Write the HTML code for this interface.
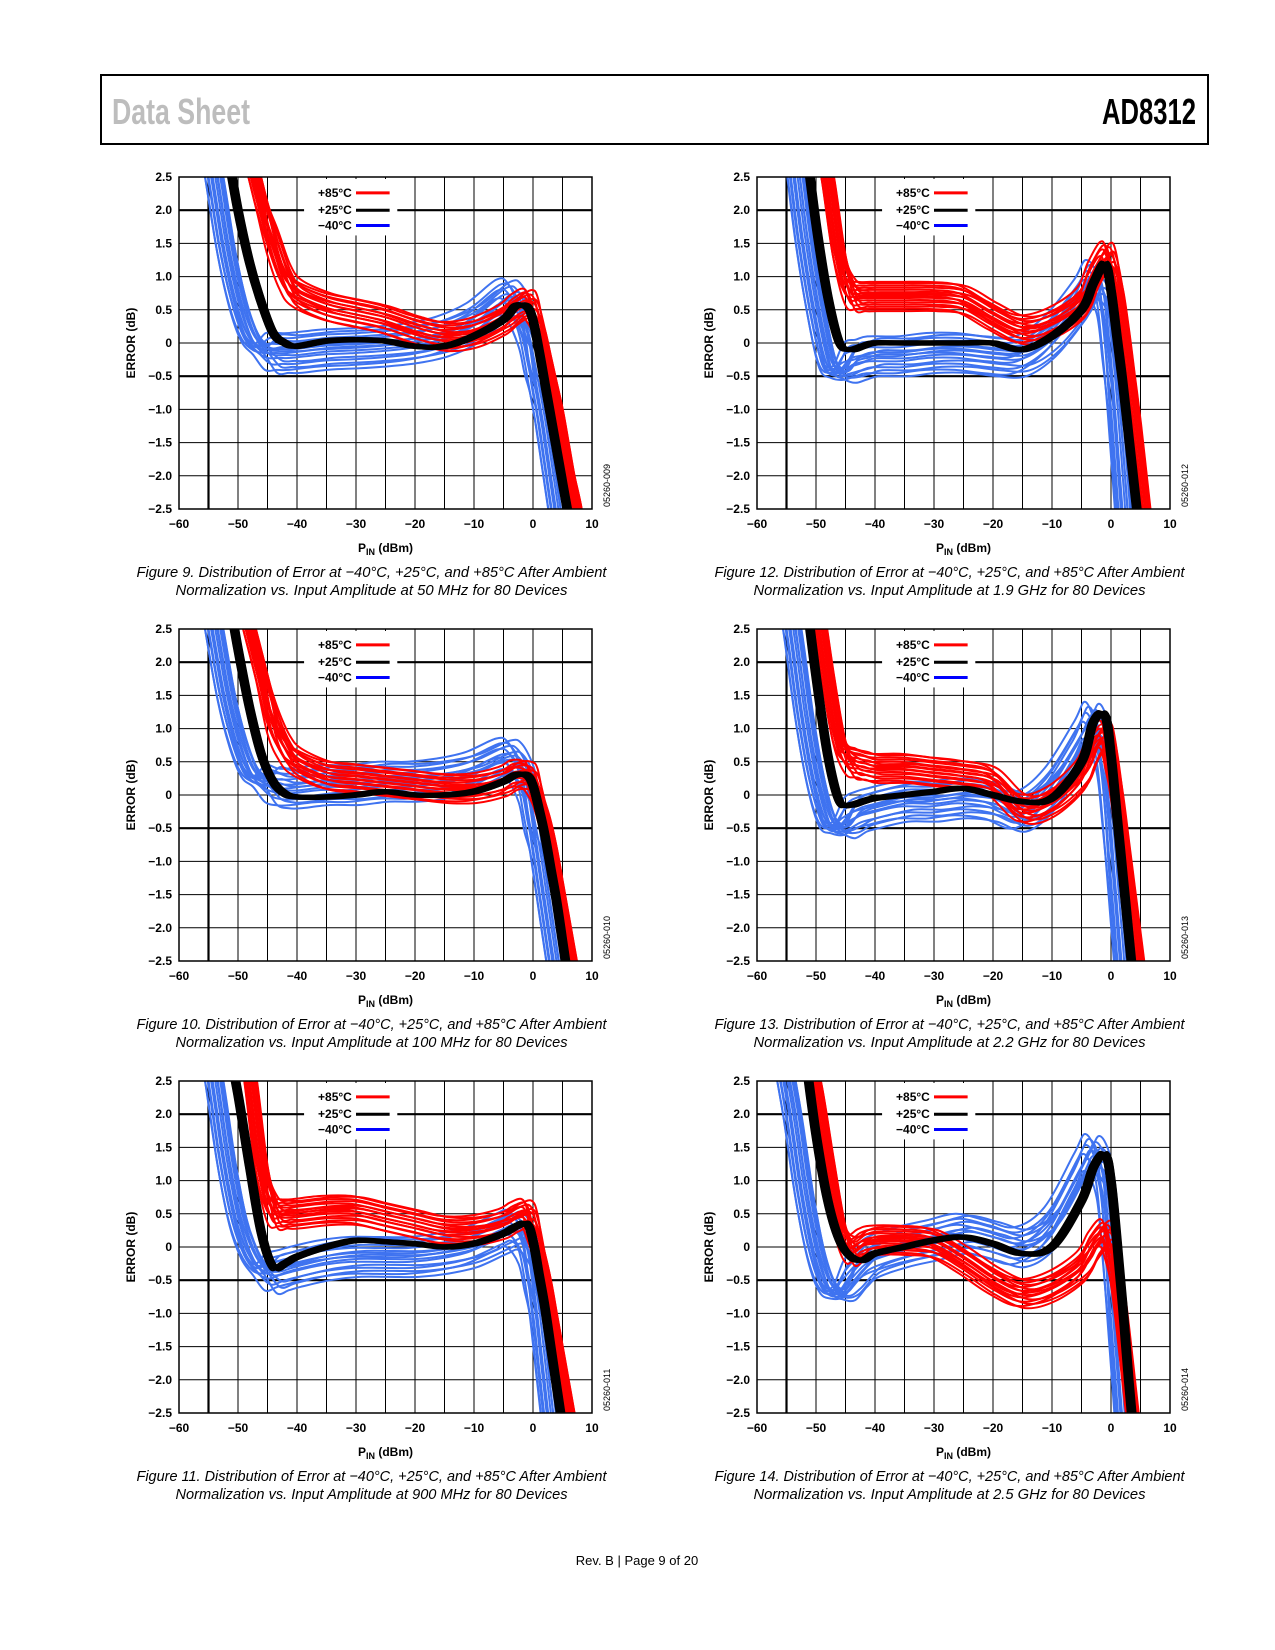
<!DOCTYPE html>
<html><head><meta charset="utf-8"><style>
html,body{margin:0;padding:0;background:#fff;width:1275px;height:1650px;overflow:hidden;position:relative;}
svg#page{display:block;position:absolute;left:0;top:0;overflow:hidden;}
text{font-family:"Liberation Sans",sans-serif;}
.tick{font-size:12px;font-weight:bold;fill:#000;}
.cap{font-size:15px;font-style:italic;fill:#000;font-family:"Liberation Sans Narrow","Liberation Sans",sans-serif;}
</style></head><body>
<svg id="page" width="1275" height="1650" viewBox="0 0 1275 1650">
<rect x="101" y="75" width="1107" height="69" fill="none" stroke="#000" stroke-width="2"/>
<text x="112" y="124" font-size="36" font-weight="bold" fill="#bdbdbd" textLength="138" lengthAdjust="spacingAndGlyphs">Data Sheet</text>
<text x="1102" y="124" font-size="36" font-weight="bold" fill="#000" textLength="94" lengthAdjust="spacingAndGlyphs">AD8312</text>
<text x="637" y="1565" font-size="13" text-anchor="middle" fill="#000">Rev. B | Page 9 of 20</text>
</svg>
<script>
// shared x grid (dBm)
const xGrid=[-56,-54,-52,-50,-48,-46,-44,-42,-40,-35,-30,-25,-20,-15,-10,-5,-3,-1,0,1,2,3,4,5,6,7,8];
const xTicks=[-60,-50,-40,-30,-20,-10,0,10];
const yTicks=[2.5,2.0,1.5,1.0,0.5,0,-0.5,-1.0,-1.5,-2.0,-2.5];
// per-device variation factors
const devDy=[-1,-0.85,-0.7,-0.55,-0.4,-0.25,-0.1,0,0.1,0.2,0.3,0.45,0.6,0.75,0.9,1];
const devDx=[0.4,-0.9,0.8,-0.3,1,-0.6,0.1,-1,0.6,-0.2,0.9,-0.7,0.3,-0.4,0.7,-0.8];
// Fig 9 (50 MHz)
const f9Blue=[3.5,2.5,1.4,0.6,0.1,-0.1,-0.15,-0.15,-0.15,-0.1,-0.08,-0.05,0,0.1,0.3,0.65,0.6,0.2,-0.2,-0.7,-1.2,-1.8,-2.4,-3,-3.6,-4.2,-4.8];
const f9Black=[5,4,3,2,1.2,0.6,0.15,0,-0.05,0.03,0.05,0.03,-0.05,-0.05,0.1,0.35,0.55,0.55,0.35,-0.1,-0.6,-1.1,-1.6,-2.1,-2.6,-3.1,-3.6];
const f9Red=[6,5,4,3.3,2.8,2.1,1.5,1.0,0.75,0.55,0.45,0.35,0.2,0.1,0.15,0.35,0.5,0.6,0.5,0.2,-0.2,-0.6,-1.0,-1.5,-2,-2.4,-2.9];
// Fig 10 (100 MHz)
const f10Blue=[3.5,2.5,1.5,0.8,0.35,0.2,0.15,0.1,0.1,0.15,0.15,0.2,0.2,0.25,0.35,0.55,0.5,0.15,-0.3,-0.8,-1.4,-2.0,-2.6,-3.2,-3.8,-4.4,-5];
const f10Black=[5,4,3.2,2.2,1.3,0.6,0.2,0.02,-0.03,-0.03,0,0.05,0,0,0.05,0.2,0.3,0.3,0.15,-0.2,-0.6,-1.1,-1.6,-2.2,-2.8,-3.4,-4];
const f10Red=[6,5,4,3.2,2.5,1.8,1.1,0.7,0.5,0.3,0.25,0.2,0.15,0.1,0.1,0.2,0.3,0.3,0.2,-0.1,-0.4,-0.8,-1.3,-1.8,-2.3,-2.8,-3.3];
// Fig 11 (900 MHz)
const f11Blue=[3.5,2.5,1.3,0.4,-0.1,-0.35,-0.4,-0.35,-0.3,-0.2,-0.15,-0.15,-0.15,-0.1,0,0.2,0.25,0,-0.4,-1.0,-1.8,-2.6,-3.4,-4,-4.6,-5,-5.5];
const f11Black=[5,4,3.2,2.3,1.2,0.2,-0.3,-0.25,-0.15,0,0.1,0.08,0.05,0,0.05,0.2,0.3,0.35,0.1,-0.4,-0.9,-1.5,-2.1,-2.7,-3.3,-3.9,-4.5];
const f11Red=[6,5,4.2,3.5,2.6,1.2,0.55,0.5,0.5,0.55,0.55,0.45,0.35,0.25,0.25,0.35,0.45,0.5,0.3,-0.1,-0.5,-1.0,-1.5,-2.0,-2.5,-3,-3.5];
// Fig 12 (1.9 GHz)
const f12Blue=[4,3,1.6,0.5,-0.3,-0.45,-0.3,-0.25,-0.2,-0.2,-0.15,-0.15,-0.2,-0.2,0.1,0.65,0.95,0.7,0,-1.0,-2.2,-3.4,-4.6,-5.8,-7,-8,-9];
const f12Black=[6,4.6,3.2,1.8,0.7,0,-0.1,-0.05,0,0,0,0,0,-0.1,0.1,0.5,0.9,1.2,0.8,0.1,-0.6,-1.4,-2.2,-3,-3.8,-4.6,-5.4];
const f12Red=[7,5.5,4.2,3.4,2.5,1.3,0.75,0.7,0.7,0.7,0.7,0.65,0.4,0.2,0.3,0.6,1.0,1.3,1.2,0.8,0.2,-0.5,-1.2,-2,-2.8,-3.6,-4.4];
// Fig 13 (2.2 GHz)
const f13Blue=[3.5,2.5,1.2,0.2,-0.4,-0.5,-0.35,-0.25,-0.2,-0.1,-0.1,-0.05,-0.1,-0.25,0.1,0.8,1.1,0.6,-0.2,-1.3,-2.4,-3.5,-4.6,-5.7,-6.8,-7.9,-9];
const f13Black=[6,4.5,3.2,1.8,0.6,-0.1,-0.15,-0.1,-0.05,0,0.05,0.1,0,-0.1,-0.05,0.5,1.1,1.2,0.6,-0.3,-1.2,-2.1,-3,-3.9,-4.8,-5.7,-6.6];
const f13Red=[6.5,5,4,3,1.8,0.8,0.5,0.45,0.4,0.4,0.35,0.3,0.2,-0.2,-0.1,0.3,0.7,0.9,0.6,0,-0.7,-1.4,-2.1,-2.8,-3.5,-4.2,-4.9];
// Fig 14 (2.5 GHz)
const f14Blue=[3,2,0.8,-0.1,-0.6,-0.7,-0.5,-0.3,-0.15,0,0.1,0.2,0.1,0,0.3,1.1,1.4,1.0,0.1,-1.1,-2.3,-3.5,-4.7,-5.9,-7.1,-8.3,-9.5];
const f14Black=[5.5,4.2,3,1.7,0.7,0.1,-0.15,-0.2,-0.1,0,0.1,0.15,0.05,-0.1,0,0.7,1.2,1.4,1.0,0.1,-0.9,-2.0,-3,-4,-5,-6,-7];
const f14Red=[5,4,3.2,2.4,1.3,0.3,-0.05,0.05,0.1,0.1,0.05,-0.2,-0.5,-0.7,-0.6,-0.3,0,0.2,0,-0.5,-1.2,-2.0,-2.8,-3.6,-4.4,-5.2,-6];

const charts=[
 {id:'9',left:179,top:177,code:'05260-009',freq:'50 MHz',blue:f9Blue,black:f9Black,red:f9Red},
 {id:'10',left:179,top:629,code:'05260-010',freq:'100 MHz',blue:f10Blue,black:f10Black,red:f10Red},
 {id:'11',left:179,top:1081,code:'05260-011',freq:'900 MHz',blue:f11Blue,black:f11Black,red:f11Red},
 {id:'12',left:757,top:177,code:'05260-012',freq:'1.9 GHz',blue:f12Blue,black:f12Black,red:f12Red},
 {id:'13',left:757,top:629,code:'05260-013',freq:'2.2 GHz',blue:f13Blue,black:f13Black,red:f13Red},
 {id:'14',left:757,top:1081,code:'05260-014',freq:'2.5 GHz',blue:f14Blue,black:f14Black,red:f14Red}
];
const NS='http://www.w3.org/2000/svg';
const svg=document.getElementById('page');
const W=413,H=332;
function mk(tag,attrs,parent){const e=document.createElementNS(NS,tag);for(const k in attrs)e.setAttribute(k,attrs[k]);(parent||svg).appendChild(e);return e;}
function pathD(pts){let d='M'+pts[0][0].toFixed(1)+','+pts[0][1].toFixed(1);
 for(let i=0;i<pts.length-1;i++){const p0=pts[Math.max(0,i-1)],p1=pts[i],p2=pts[i+1],p3=pts[Math.min(pts.length-1,i+2)];
  const c1=[p1[0]+(p2[0]-p0[0])/6,p1[1]+(p2[1]-p0[1])/6],c2=[p2[0]-(p3[0]-p1[0])/6,p2[1]-(p3[1]-p1[1])/6];
  d+='C'+c1[0].toFixed(1)+','+c1[1].toFixed(1)+' '+c2[0].toFixed(1)+','+c2[1].toFixed(1)+' '+p2[0].toFixed(1)+','+p2[1].toFixed(1);}
 return d;}
charts.forEach(c=>{
 const g=mk('g',{transform:'translate('+c.left+','+c.top+')'});
 
 
 const sx=v=>(v+60)/70*W, sy=v=>(2.5-v)/5*H;
 const cp=mk('clipPath',{id:'clip'+c.id},g);mk('rect',{x:0,y:0,width:W,height:H},cp);
 for(let v=-55;v<10;v+=5){const l=mk('line',{x1:sx(v),x2:sx(v),y1:0,y2:H,stroke:'#000','stroke-width':v===-55?2.2:1},g);
  }
 yTicks.forEach(v=>{const thick=(v===2.0||v===-0.5);const l=mk('line',{x1:0,x2:W,y1:sy(v),y2:sy(v),stroke:'#000','stroke-width':thick?2.2:1},g);
  });
 const series=[['blue',c.blue,'#3f73f0',0.3,1.6,2.0],['red',c.red,'#ff0000',0.22,1.1,2.0],['black',c.black,'#000',0.03,0.7,1.6]];
 series.forEach(s=>{const sg=mk('g',{'clip-path':'url(#clip'+c.id+')'},g);
  
  devDy.forEach((k,i)=>{const pts=xGrid.map((x,j)=>[sx(x+devDx[i]*s[4]),sy(s[1][j]+k*s[3]*(j>5&&j<19?1:0.3))]);
   const p=mk('path',{d:pathD(pts),fill:'none',stroke:s[2],'stroke-width':s[5]},sg);
   });});
 mk('rect',{x:0,y:0,width:W,height:H,fill:'none',stroke:'#000','stroke-width':1.5},g);
 const lg=mk('g',{},g);
 mk('rect',{x:sx(-38.8),y:sy(2.47),width:sx(-23)-sx(-38.8),height:sy(1.62)-sy(2.47),fill:'#fff'},lg);
 [['+85°C','#ff0000',2.26],['+25°C','#000',2.0],['\u221240°C','#0000ff',1.77]].forEach(e=>{
  const t=mk('text',{x:sx(-30.7),y:sy(e[2])+4,'text-anchor':'end',class:'tick'},lg);t.textContent=e[0];
  
  mk('line',{x1:sx(-30),x2:sx(-24.3),y1:sy(e[2]),y2:sy(e[2]),stroke:e[1],'stroke-width':3},lg);});
 yTicks.forEach(v=>{const t=mk('text',{x:-7,y:sy(v)+4,'text-anchor':'end',class:'tick'},g);
  t.textContent=v===0?'0':(v<0?'\u2212':'')+Math.abs(v).toFixed(1);
  });
 xTicks.forEach(v=>{const t=mk('text',{x:sx(v),y:H+19,'text-anchor':'middle',class:'tick'},g);
  t.textContent=(v<0?'\u2212':'')+Math.abs(v);
  });
 const xl=mk('text',{x:W/2,y:H+43,'text-anchor':'middle',class:'tick','font-size':13},g);
 xl.innerHTML='P<tspan font-size="9" dy="3">IN</tspan><tspan dy="-3"> (dBm)</tspan>';
 
 const yl=mk('text',{x:0,y:0,transform:'translate('+(-44)+','+(H/2)+') rotate(-90)','text-anchor':'middle',class:'tick','font-size':13},g);
 yl.textContent='ERROR (dB)';
 const fc=mk('text',{x:0,y:0,transform:'translate('+(W+18)+','+(H-2)+') rotate(-90)','font-size':9,fill:'#000'},g);
 fc.textContent=c.code;
 const cx=W/2-14;
 const c1=mk('text',{x:cx,y:H+68,'text-anchor':'middle',class:'cap',textLength:470,lengthAdjust:'spacingAndGlyphs'},g);
 c1.textContent='Figure '+c.id+'. Distribution of Error at \u221240\u00b0C, +25\u00b0C, and +85\u00b0C After Ambient';
 
 const c2=mk('text',{x:cx,y:H+86,'text-anchor':'middle',class:'cap',textLength:392,lengthAdjust:'spacingAndGlyphs'},g);
 c2.textContent='Normalization vs. Input Amplitude at '+c.freq+' for 80 Devices';
 
});
</script>
</body></html>
